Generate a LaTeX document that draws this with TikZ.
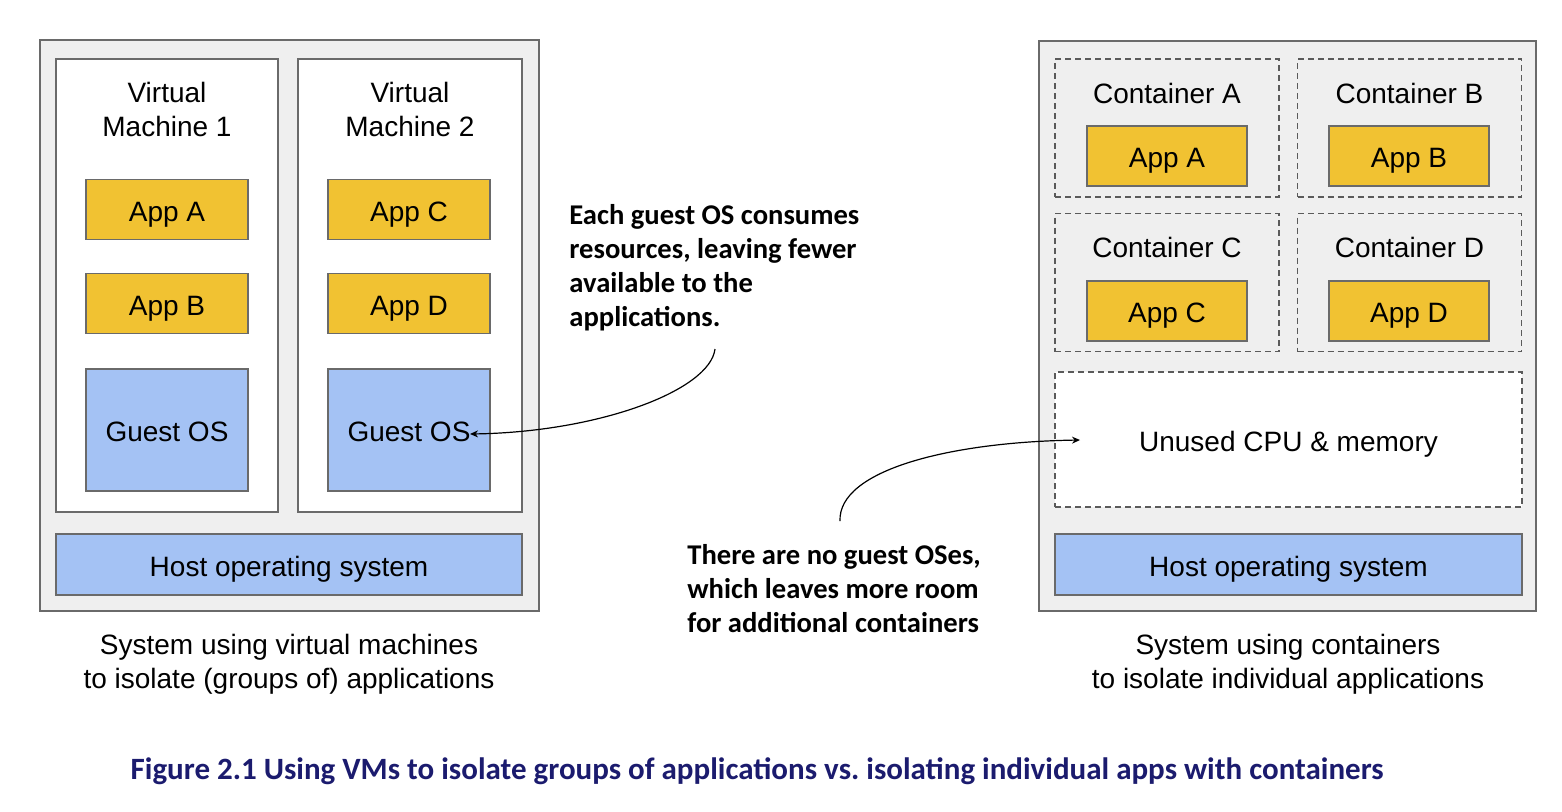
\documentclass[tikz,border=0pt]{standalone}
\usepackage{fontspec}
\setmainfont{Liberation Sans}
\newfontfamily\notefont{Carlito}
\usepackage{xcolor}
\usetikzlibrary{arrows.meta,positioning}

\definecolor{bggray}{HTML}{EFEFEF}
\definecolor{linegray}{HTML}{6A6A6A}
\definecolor{dashgray}{HTML}{5A5A5A}
\definecolor{appyellow}{HTML}{F1C232}
\definecolor{osblue}{HTML}{A4C2F4}
\definecolor{titlenavy}{HTML}{1B1B6E}

\tikzset{
  sysbox/.style={draw=linegray, fill=bggray, line width=0.8pt, inner sep=0pt},
  vmbox/.style={draw=linegray, fill=white, line width=0.8pt, inner sep=0pt, minimum height=226.5pt},
  ctrbox/.style={draw=dashgray, dash pattern=on 3pt off 2pt, line width=0.55pt, inner sep=0pt, minimum width=112pt, minimum height=69pt},
  appbox/.style={draw=linegray, fill=appyellow, line width=0.8pt, inner sep=0pt, minimum height=30pt},
  osbox/.style={draw=linegray, fill=osblue, line width=0.8pt, inner sep=0pt},
  lbl/.style={font=\fontsize{14}{17}\selectfont, align=center},
  boxlbl/.style={font=\fontsize{14}{17}\selectfont, text height=11.5pt, text depth=0pt},
  note/.style={font=\notefont\bfseries\fontsize{14.3}{17}\selectfont, align=left, anchor=west, inner sep=0pt},
  callout/.style={line width=0.6pt, -{Stealth[length=4pt,width=3.5pt]}}
}

\begin{document}
\begin{tikzpicture}[x=0.5pt,y=-0.5pt]
\useasboundingbox (0,0) rectangle (1562,811);

% Left system: virtual machines
\node[sysbox, minimum width=249.5pt, minimum height=285.5pt] (vmsys) at (289.5,325.5) {};
\node[vmbox, minimum width=111pt] (vm1) at (167,285.5) {};
\node[vmbox, minimum width=112pt] (vm2) at (410,285.5) {};
\node[lbl] (vm1lbl) at (167,109) {Virtual\\Machine 1};
\node[lbl] (vm2lbl) at (410,109) {Virtual\\Machine 2};

% Apps and guest OSes
\node[appbox, minimum width=81pt, boxlbl] (vmappa) at (167,209.5) {App A};
\node[appbox, minimum width=81pt, boxlbl] (vmappb) at (167,303.5) {App B};
\node[appbox, minimum width=81pt, boxlbl] (vmappc) at (409,209.5) {App C};
\node[appbox, minimum width=81pt, boxlbl] (vmappd) at (409,303.5) {App D};
\node[osbox, minimum width=81pt, minimum height=61pt, boxlbl] (guest1) at (167,430) {Guest OS};
\node[osbox, minimum width=81pt, minimum height=61pt, boxlbl] (guest2) at (409,430) {Guest OS};

\node[osbox, minimum width=233pt, minimum height=30.5pt, boxlbl] (vmhost) at (289,564.5) {Host operating system};
\node[lbl] (vmcap) at (289,664) {System using virtual machines\\to isolate (groups of) applications};

% Right system: containers
\node[sysbox, minimum width=248.5pt, minimum height=285pt] (ctrsys) at (1287.5,326) {};
\node[ctrbox] (ctra) at (1167,128) {};
\node[ctrbox] (ctrb) at (1409.5,128) {};
\node[ctrbox] (ctrc) at (1167,282.5) {};
\node[ctrbox] (ctrd) at (1409.5,282.5) {};
\node[lbl] (ctralbl) at (1167,93) {Container A};
\node[lbl] (ctrblbl) at (1409.5,93) {Container B};
\node[lbl] (ctrclbl) at (1167,247) {Container C};
\node[lbl] (ctrdlbl) at (1409.5,247) {Container D};

\node[appbox, minimum width=80pt, boxlbl] (ctrappa) at (1167,156) {App A};
\node[appbox, minimum width=80pt, boxlbl] (ctrappb) at (1409,156) {App B};
\node[appbox, minimum width=80pt, boxlbl] (ctrappc) at (1167,311) {App C};
\node[appbox, minimum width=80pt, boxlbl] (ctrappd) at (1409,311) {App D};

\node[ctrbox, fill=white, minimum width=233.5pt, minimum height=67.5pt, boxlbl] (unused) at (1288.5,439.5) {Unused CPU \& memory};
\node[osbox, minimum width=233.5pt, minimum height=30.5pt, boxlbl] (ctrhost) at (1288.5,564.5) {Host operating system};
\node[lbl] (ctrcap) at (1288,664) {System using containers\\to isolate individual applications};

% Notes
\node[note] (note1) at (569,268) {Each guest OS consumes\\resources, leaving fewer\\available to the\\applications.};
\node[note] (note2) at (687,589) {There are no guest OSes,\\which leaves more room\\for additional containers};

% Callout ends
\coordinate (n1start) at (715,349);
\coordinate (n1end) at (470,434);
\coordinate (n2start) at (840,521);
\coordinate (n2end) at (1080,440);

\draw[callout] (n1start) .. controls (710,390) and (600,432) .. (n1end);
\draw[callout] (n2start) .. controls (838,470) and (950,442) .. (n2end);

% Caption
\node[font=\notefont\bfseries\fontsize{15.5}{18}\selectfont, text=titlenavy] (title) at (757,771) {Figure 2.1 Using VMs to isolate groups of applications vs.\ isolating individual apps with containers};

\end{tikzpicture}
\end{document}
